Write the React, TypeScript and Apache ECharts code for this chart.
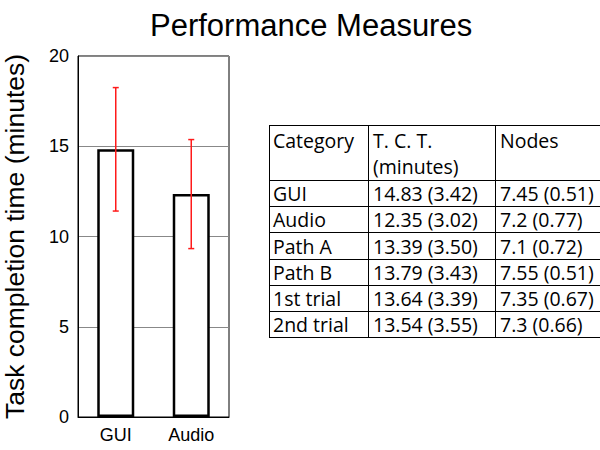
import React, { useEffect, useRef } from "react";
import * as echarts from "echarts";

// Bar chart data
const barCategories = ["GUI", "Audio"];
const barMeans = [14.83, 12.35];
const barSds = [3.42, 3.02];
const yTicks = [0, 5, 10, 15, 20];

// Table data
const tableHeader = [["Category"], ["T. C. T.", "(minutes)"], ["Nodes"]];
const tableCategories = ["GUI", "Audio", "Path A", "Path B", "1st trial", "2nd trial"];
const tctMeans = [14.83, 12.35, 13.39, 13.79, 13.64, 13.54];
const tctSds = [3.42, 3.02, 3.5, 3.43, 3.39, 3.55];
const nodesMeans = [7.45, 7.2, 7.1, 7.55, 7.35, 7.3];
const nodesSds = [0.51, 0.77, 0.72, 0.51, 0.67, 0.66];

const FONT = "Liberation Sans, Arial, sans-serif";
const TFONT = "Open Sans, Noto Sans, sans-serif";

export default function App() {
  const ref = useRef<HTMLDivElement>(null);
  useEffect(() => {
    if (!ref.current) return;
    const chart = echarts.init(ref.current, null, { renderer: "svg" });

    // table geometry
    const tLeft = 269;
    const tRight = 605;
    const tTop = 125;
    const headerBottom = 180;
    const rowH = 26.2;
    const colX = [269, 368, 495];
    const textX = [273, 373, 500];
    const nRows = tableCategories.length;
    const tBottom = headerBottom + rowH * nRows;

    const graphics: any[] = [];
    const lineStyle = { stroke: "#000", lineWidth: 1 };
    const hY = [tTop, headerBottom];
    for (let i = 1; i <= nRows; i++) hY.push(headerBottom + rowH * i);
    hY.forEach((y) =>
      graphics.push({
        type: "line",
        shape: { x1: tLeft, y1: Math.round(y) + 0.5, x2: tRight, y2: Math.round(y) + 0.5 },
        style: lineStyle,
      })
    );
    colX.forEach((x) =>
      graphics.push({
        type: "line",
        shape: { x1: x + 0.5, y1: tTop, x2: x + 0.5, y2: Math.round(tBottom) + 0.5 },
        style: lineStyle,
      })
    );
    const textEl = (t: string, x: number, yCenter: number) => ({
      type: "text",
      x,
      y: yCenter,
      style: {
        text: t,
        fill: "#000",
        font: `19.5px ${TFONT}`,
        textVerticalAlign: "middle",
      },
    });
    tableHeader.forEach((lines, c) =>
      lines.forEach((h, li) => graphics.push(textEl(h, textX[c], 140 + li * 26.8)))
    );
    tableCategories.forEach((cat, r) => {
      const y = headerBottom + rowH * r + rowH / 2 + 0.5;
      const tct = `${tctMeans[r].toFixed(2)} (${tctSds[r].toFixed(2)})`;
      const nodes = `${nodesMeans[r]} (${nodesSds[r].toFixed(2)})`;
      [cat, tct, nodes].forEach((t, c) => graphics.push(textEl(t, textX[c], y)));
    });

    chart.setOption({
      animation: false,
      title: {
        text: "Performance Measures",
        left: 145,
        top: 5,
        textStyle: { fontFamily: FONT, fontSize: 31, fontWeight: "normal", color: "#000" },
      },
      grid: {
        left: 76,
        right: 371,
        top: 56,
        bottom: 33,
        show: true,
        borderColor: "#000",
        borderWidth: 1,
        backgroundColor: "transparent",
      },
      xAxis: {
        type: "category",
        data: barCategories,
        axisLine: { lineStyle: { color: "#000", width: 1 } },
        axisTick: { show: false },
        axisLabel: { color: "#000", fontFamily: FONT, fontSize: 18, margin: 9 },
      },
      yAxis: {
        type: "value",
        min: yTicks[0],
        max: yTicks[yTicks.length - 1],
        interval: 5,
        name: "Task completion time (minutes)",
        nameLocation: "middle",
        nameGap: 50,
        nameTextStyle: { color: "#000", fontFamily: FONT, fontSize: 26.5 },
        axisLine: { show: true, lineStyle: { color: "#000", width: 1 } },
        axisTick: { show: false },
        axisLabel: { color: "#000", fontFamily: FONT, fontSize: 18, margin: 9 },
        splitLine: { lineStyle: { color: "#888", width: 1 } },
      },
      series: [
        {
          type: "bar",
          data: barMeans,
          barWidth: 37,
          itemStyle: { color: "#fff", borderColor: "#000", borderWidth: 2.5 },
          z: 2,
        },
        {
          type: "custom",
          data: barCategories.map((_, i) => [i, barMeans[i], barSds[i]]),
          encode: { x: 0, y: 1 },
          z: 5,
          renderItem: (params: any, api: any) => {
            const x = api.value(0);
            const m = api.value(1);
            const s = api.value(2);
            const hi = api.coord([x, m + s]);
            const lo = api.coord([x, m - s]);
            const w = 3;
            const st = { stroke: "#ff1a1a", lineWidth: 1.5 };
            return {
              type: "group",
              children: [
                { type: "line", shape: { x1: hi[0], y1: hi[1], x2: lo[0], y2: lo[1] }, style: st },
                { type: "line", shape: { x1: hi[0] - w, y1: hi[1], x2: hi[0] + w, y2: hi[1] }, style: st },
                { type: "line", shape: { x1: lo[0] - w, y1: lo[1], x2: lo[0] + w, y2: lo[1] }, style: st },
              ],
            };
          },
        },
      ],
      graphic: graphics,
    });
    return () => chart.dispose();
  }, []);
  return (
    <div
      ref={ref}
      style={{ position: "fixed", left: 0, top: 0, width: 600, height: 450, background: "#fff" }}
    />
  );
}
